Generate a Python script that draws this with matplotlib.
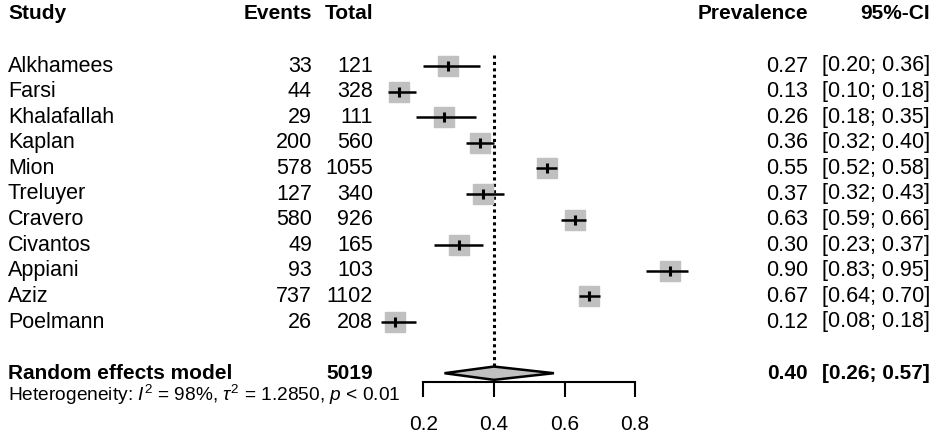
import matplotlib
matplotlib.use("Agg")
import matplotlib.pyplot as plt
import matplotlib.transforms as mtransforms
from matplotlib.patches import Polygon

# study level data
studies = ["Alkhamees", "Farsi", "Khalafallah", "Kaplan", "Mion", "Treluyer",
           "Cravero", "Civantos", "Appiani", "Aziz", "Poelmann"]
events = [33, 44, 29, 200, 578, 127, 580, 49, 93, 737, 26]
totals = [121, 328, 111, 560, 1055, 340, 926, 165, 103, 1102, 208]
prev = [0.27, 0.13, 0.26, 0.36, 0.55, 0.37, 0.63, 0.30, 0.90, 0.67, 0.12]
ci_lo = [0.20, 0.10, 0.18, 0.32, 0.52, 0.32, 0.59, 0.23, 0.83, 0.64, 0.08]
ci_hi = [0.36, 0.18, 0.35, 0.40, 0.58, 0.43, 0.66, 0.37, 0.95, 0.70, 0.18]

# pooled (random effects)
pooled_total = 5019
pooled = 0.40
pooled_lo = 0.26
pooled_hi = 0.57
i2 = 98
tau2 = 1.2850
pval = "< 0.01"

xticks = [0.2, 0.4, 0.6, 0.8]

plt.rcParams["font.family"] = ["Liberation Sans", "DejaVu Sans"]
plt.rcParams["mathtext.fontset"] = "custom"
plt.rcParams["mathtext.rm"] = "Liberation Sans"
plt.rcParams["mathtext.it"] = "Liberation Sans:italic"

W, H = 935, 438
fig = plt.figure(figsize=(W / 100, H / 100), dpi=100)
ax = fig.add_axes([0, 0, 1, 1])

# layout: pixel mapping of the forest region
x0_px, px_per_unit = 423.3, 353.0
row0_px, row_px = 66.0, 25.6
ax.set_xlim(0.2 - x0_px / px_per_unit, 0.2 + (W - x0_px) / px_per_unit)
ax.set_ylim((H - row0_px) / row_px, -row0_px / row_px)

fs = 15.5
fs_b = 15.0
tr = mtransforms.blended_transform_factory(fig.transFigure, ax.transData)

def col(xpx, y, s, ha="left", bold=False, size=None):
    if size is None:
        size = fs_b if bold else fs
    ax.text(xpx / W, y, s, transform=tr, ha=ha, va="center", fontsize=size,
            fontweight="bold" if bold else "normal", color="black")

# header
hdr = -2.05
col(8, hdr, "Study", bold=True)
col(312, hdr, "Events", ha="right", bold=True)
col(373, hdr, "Total", ha="right", bold=True)
col(808, hdr, "Prevalence", ha="right", bold=True)
col(930, hdr, "95%-CI", ha="right", bold=True)

# study rows
for i, name in enumerate(studies):
    col(8, i, name)
    col(312, i, str(events[i]), ha="right")
    col(373, i, str(totals[i]), ha="right")
    col(808, i, f"{prev[i]:.2f}", ha="right")
    col(930, i, f"[{ci_lo[i]:.2f}; {ci_hi[i]:.2f}]", ha="right")

    ax.plot(prev[i], i, marker="s", markersize=14.3, color="#c0c0c0",
            markeredgecolor="#c0c0c0", zorder=2)
    ax.plot([ci_lo[i], ci_hi[i]], [i, i], color="black", lw=1.8, zorder=3,
            solid_capstyle="butt")
    ax.plot(prev[i], i, marker="|", markersize=7, markeredgewidth=2.2,
            color="black", zorder=4)

# pooled row
rr = 12
col(8, rr, "Random effects model", bold=True)
col(373, rr, str(pooled_total), ha="right", bold=True)
col(808, rr, f"{pooled:.2f}", ha="right", bold=True)
col(930, rr, f"[{pooled_lo:.2f}; {pooled_hi:.2f}]", ha="right", bold=True)
dh = 0.26
diamond = Polygon([(pooled_lo, rr), (pooled, rr - dh), (pooled_hi, rr), (pooled, rr + dh)],
                  closed=True, facecolor="#c0c0c0", edgecolor="black", lw=1.8, zorder=3)
ax.add_patch(diamond)

col(8, 12.85, "Heterogeneity: $I^2$ = %d%%, $\\tau^2$ = %.4f, $p$ %s" % (i2, tau2, pval),
    size=13.8)

# reference line at pooled estimate
ax.plot([pooled, pooled], [-0.43, rr - dh], color="black", lw=2.2,
        linestyle=(0, (1, 1.1)), zorder=1)

# x axis
for s in ["top", "left", "right"]:
    ax.spines[s].set_visible(False)
ax.spines["bottom"].set_position(("data", 12.34))
ax.spines["bottom"].set_bounds(xticks[0], xticks[-1])
ax.spines["bottom"].set_linewidth(1.5)
ax.set_xticks(xticks)
ax.set_xticklabels([f"{t:.1f}" for t in xticks])
ax.tick_params(axis="x", direction="out", length=10.8, width=1.5, pad=13, labelsize=15)
ax.set_yticks([])
ax.patch.set_visible(False)

fig.savefig("out.png", dpi=100)
